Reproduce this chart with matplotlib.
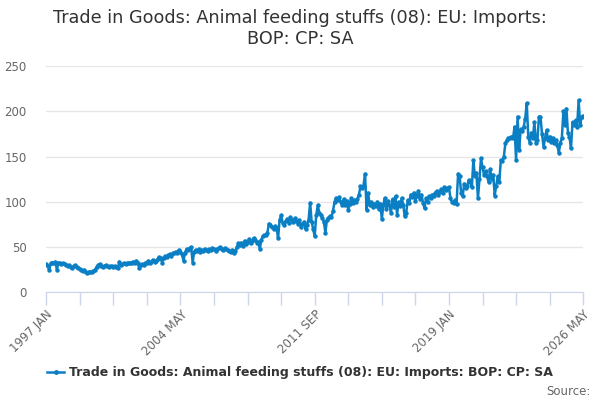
import numpy as np
import matplotlib
matplotlib.use('Agg')
import matplotlib.pyplot as plt
from matplotlib.lines import Line2D

TITLE = 'Trade in Goods: Animal feeding stuffs (08): EU: Imports:\nBOP: CP: SA'
SERIES = 'Trade in Goods: Animal feeding stuffs (08): EU: Imports: BOP: CP: SA'
TICK_LABELS = ['1997 JAN', '2004 MAY', '2011 SEP', '2019 JAN', '2026 MAY']
Y_TICKS = [0, 50, 100, 150, 200, 250]

# monthly values, 1997 JAN .. 2026 MAY
v1997 = [31, 29, 25, 32, 33, 32, 34, 25, 33, 32, 31, 32]
v1998 = [31, 30, 29, 30, 28, 27, 29, 30, 28, 27, 26, 25]
v1999 = [24, 25, 22, 21, 23, 22, 23, 24, 25, 28, 30, 31]
v2000 = [29, 28, 29, 30, 29, 28, 29, 29, 28, 29, 28, 27]
v2001 = [34, 30, 31, 32, 31, 32, 33, 32, 33, 34, 33, 35]
v2002 = [33, 27, 30, 31, 30, 32, 33, 35, 33, 34, 36, 34]
v2003 = [35, 37, 39, 38, 33, 38, 40, 39, 41, 42, 40, 43]
v2004 = [44, 45, 43, 47, 45, 42, 35, 44, 48, 47, 49, 50]
v2005 = [33, 45, 47, 46, 48, 45, 47, 46, 48, 47, 46, 48]
v2006 = [47, 49, 48, 46, 48, 49, 50, 48, 47, 49, 48, 47]
v2007 = [46, 45, 47, 44, 46, 50, 54, 52, 55, 51, 57, 53]
v2008 = [56, 59, 54, 57, 60, 58, 55, 56, 48, 58, 62, 63]
v2009 = [63, 66, 76, 74, 72, 70, 73, 71, 60, 80, 85, 77]
v2010 = [74, 79, 81, 77, 83, 80, 78, 82, 79, 76, 80, 72]
v2011 = [75, 78, 70, 74, 80, 99, 78, 70, 62, 85, 96, 88]
v2012 = [86, 82, 78, 66, 80, 82, 84, 83, 90, 100, 104, 102]
v2013 = [105, 100, 97, 103, 96, 101, 91, 98, 104, 99, 102, 100]
v2014 = [103, 108, 117, 115, 118, 131, 91, 110, 96, 100, 94, 98]
v2015 = [95, 100, 92, 98, 81, 97, 104, 92, 101, 96, 88, 103]
v2016 = [94, 106, 86, 100, 95, 104, 97, 84, 88, 102, 99, 108]
v2017 = [105, 110, 101, 107, 112, 103, 108, 99, 93, 104, 100, 106]
v2018 = [104, 108, 106, 110, 112, 108, 111, 114, 110, 116, 113, 115]
v2019 = [116, 104, 100, 99, 102, 98, 131, 128, 110, 106, 120, 115]
v2020 = [118, 124, 122, 116, 146, 128, 132, 104, 125, 148, 138, 130]
v2021 = [134, 128, 122, 136, 125, 130, 107, 118, 128, 122, 146, 145]
v2022 = [150, 165, 168, 170, 171, 172, 170, 183, 146, 194, 157, 180]
v2023 = [178, 183, 192, 209, 172, 165, 176, 170, 188, 165, 168, 194]
v2024 = [194, 175, 161, 170, 179, 168, 172, 166, 170, 165, 168, 163]
v2025 = [154, 165, 170, 200, 185, 203, 176, 172, 159, 188, 185, 190]
v2026 = [183, 212, 185, 194, 195]

values = (v1997 + v1998 + v1999 + v2000 + v2001 + v2002 + v2003 + v2004 + v2005
          + v2006 + v2007 + v2008 + v2009 + v2010 + v2011 + v2012 + v2013 + v2014
          + v2015 + v2016 + v2017 + v2018 + v2019 + v2020 + v2021 + v2022 + v2023
          + v2024 + v2025 + v2026)
months = np.arange(len(values))

BLUE = '#0b7fc4'

fig = plt.figure(figsize=(6, 4), dpi=100)
ax = fig.add_axes([0.077, 0.269, 0.895, 0.566])
ax.plot(months, values, color=BLUE, lw=1.8, marker='o', ms=2.2, zorder=3)

ax.set_xlim(0, len(values) - 1)
ax.set_ylim(0, 250)
ax.set_yticks(Y_TICKS)
ax.grid(axis='y', color='#e6e6e6', lw=1)
ax.set_axisbelow(True)

major = np.arange(0, len(values), 88)
ax.set_xticks(major)
ax.set_xticklabels(TICK_LABELS, rotation=45, ha='right', rotation_mode='anchor')
ax.set_xticks(np.arange(0, len(values), 22), minor=True)
ax.tick_params(axis='x', which='both', length=9, color='#ccd6eb', width=1,
               labelsize=8.5, labelcolor='#666666', pad=2)
ax.tick_params(axis='y', length=0, labelsize=8.5, labelcolor='#666666', pad=14)

for s in ['top', 'right', 'left']:
    ax.spines[s].set_visible(False)
ax.spines['bottom'].set_color('#ccd6eb')

fig.text(0.5, 0.978, TITLE, ha='center', va='top', fontsize=12.7, color='#333333',
         linespacing=1.2)

handle = Line2D([], [], color=BLUE, lw=1.8, marker='o', ms=2.5)
fig.legend([handle], [SERIES], loc='center', bbox_to_anchor=(0.5, 0.068),
           frameon=False, handlelength=1.4, handletextpad=0.4,
           prop={'weight': 'bold', 'size': 9})
for t in fig.legends[0].get_texts():
    t.set_color('#333333')

fig.text(0.985, 0.004, 'Source:', ha='right', va='bottom', fontsize=8.5, color='#666666')

fig.savefig('out.png', dpi=100)
